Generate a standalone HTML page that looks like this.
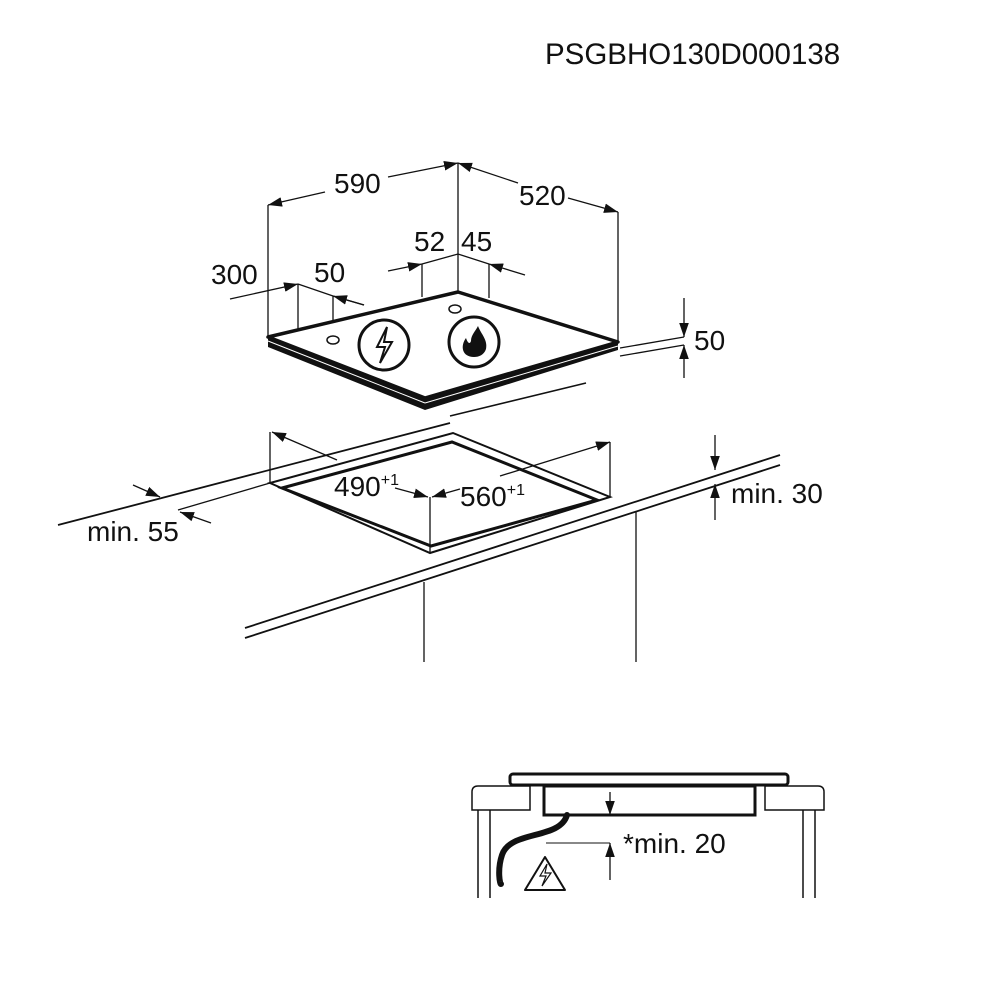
<!DOCTYPE html>
<html><head><style>body{margin:0;background:#fff}svg{display:block}text{font-family:"Liberation Sans",Arial,sans-serif;fill:#111}</style></head>
<body>
<svg width="1000" height="1000" viewBox="0 0 1000 1000">
<defs><marker id="a" viewBox="0 0 10 10" refX="10" refY="5" markerWidth="14" markerHeight="12" orient="auto-start-reverse" markerUnits="userSpaceOnUse" preserveAspectRatio="none"><path d="M0,1 L10,5 L0,9z" fill="#111"/></marker></defs>
<text x="545" y="64" font-size="29.5">PSGBHO130D000138</text>
<g stroke="#111" fill="none" stroke-width="1.3">
<line x1="458" y1="163" x2="458" y2="292"/>
<line x1="268" y1="205" x2="268" y2="337"/>
<line x1="618" y1="212" x2="618" y2="342"/>
<line x1="325" y1="192" x2="268" y2="205" marker-end="url(#a)"/>
<line x1="388" y1="177" x2="458" y2="163" marker-end="url(#a)"/>
<line x1="518" y1="183" x2="458" y2="163" marker-end="url(#a)"/>
<line x1="568" y1="198" x2="618" y2="212" marker-end="url(#a)"/>
<line x1="422" y1="264" x2="422" y2="297"/>
<line x1="489" y1="264" x2="489" y2="298"/>
<polyline points="422,264 458,254 489,264"/>
<line x1="388" y1="271" x2="422" y2="264" marker-end="url(#a)"/>
<line x1="525" y1="275" x2="489" y2="264" marker-end="url(#a)"/>
<line x1="298" y1="284" x2="298" y2="330"/>
<line x1="333" y1="296" x2="333" y2="340"/>
<polyline points="298,284 333,296 364,305"/>
<line x1="230" y1="299" x2="298" y2="284" marker-end="url(#a)"/>
<line x1="364" y1="305" x2="333" y2="296" marker-end="url(#a)"/>
<line x1="620" y1="348" x2="684" y2="337"/>
<line x1="620" y1="356" x2="684" y2="345"/>
<line x1="684" y1="298" x2="684" y2="337" marker-end="url(#a)"/>
<line x1="684" y1="378" x2="684" y2="345" marker-end="url(#a)"/>
<line x1="450" y1="416" x2="586" y2="383" stroke-width="1.6"/>
</g>
<polygon points="268,337 458,292 618,342 425,398" fill="#fff" stroke="#111" stroke-width="3.5" stroke-linejoin="round"/>
<polygon points="268,337 425,398 618,342 618,350 425,410 268,347" fill="#111"/>
<line x1="268" y1="341" x2="425" y2="403" stroke="#fff" stroke-width="1"/>
<line x1="425" y1="403" x2="618" y2="346" stroke="#fff" stroke-width="1"/>
<ellipse cx="333" cy="340" rx="6" ry="4" fill="none" stroke="#111" stroke-width="1.5"/>
<ellipse cx="455" cy="309" rx="6" ry="4" fill="none" stroke="#111" stroke-width="1.5"/>
<circle cx="384" cy="345" r="25" fill="#fff" stroke="#111" stroke-width="3"/>
<path d="M387,327 L377,347 L385,347 L380,363 L392,342 L384,342 Z" fill="#fff" stroke="#111" stroke-width="2"/>
<circle cx="474" cy="342" r="25" fill="#fff" stroke="#111" stroke-width="3"/>
<path d="M474,357 C462,357 460,346 466,338 C468,344 470,344 471,341 C471,335 475,332 478,326 C481,334 488,340 486,349 C484,355 479,357 474,357Z" fill="#111"/>
<g stroke="#111" fill="none" stroke-width="1.3">
<line x1="58" y1="525" x2="450" y2="423" stroke-width="1.8"/>
<line x1="245" y1="628" x2="780" y2="455" stroke-width="1.8"/>
<line x1="245" y1="638" x2="780" y2="465" stroke-width="1.8"/>
<line x1="424" y1="582" x2="424" y2="662"/>
<line x1="636" y1="512" x2="636" y2="662"/>
<line x1="270" y1="483" x2="178" y2="510"/>
<line x1="133" y1="485" x2="160" y2="497" marker-end="url(#a)"/>
<line x1="211" y1="523" x2="180" y2="512" marker-end="url(#a)"/>
<line x1="270" y1="432" x2="270" y2="483"/>
<line x1="610" y1="442" x2="610" y2="497"/>
<line x1="337" y1="460" x2="272" y2="432" marker-end="url(#a)"/>
<line x1="500" y1="476" x2="610" y2="442" marker-end="url(#a)"/>
<line x1="430" y1="497" x2="430" y2="553"/>
<line x1="395" y1="488" x2="428" y2="497" marker-end="url(#a)"/>
<line x1="460" y1="489" x2="432" y2="497" marker-end="url(#a)"/>
<line x1="715" y1="435" x2="715" y2="470" marker-end="url(#a)"/>
<line x1="715" y1="520" x2="715" y2="484" marker-end="url(#a)"/>
</g>
<polygon points="270,483 453,433 610,497 430,553" fill="none" stroke="#111" stroke-width="2"/>
<polygon points="282,488 452,442 597,500 431,546" fill="none" stroke="#111" stroke-width="3"/>
<g stroke="#111" fill="none">
<rect x="510" y="774" width="278" height="11" rx="3" stroke-width="3"/>
<path d="M530,786 H478 Q472,786 472,792 V810 H530 Z M765,786 H818 Q824,786 824,792 V810 H765 Z" stroke-width="1.5"/>
<path d="M478,810 V898 M490,810 V898 M803,810 V898 M815,810 V898" stroke-width="1.5"/>
<rect x="544" y="786" width="211" height="29" stroke-width="3"/>
<path d="M567,815 C560,840 510,830 502,855 C497,870 500,885 501,884" stroke-width="6" stroke-linecap="round"/>
<polygon points="545,857 525,890 565,890" stroke-width="2" stroke-linejoin="round"/>
<path d="M547,864 L540,876 L546,876 L542,886 L551,873 L545,873Z" stroke-width="1.2"/>
<line x1="546" y1="843" x2="610" y2="843" stroke-width="1"/>
<line x1="610" y1="792" x2="610" y2="815" marker-end="url(#a)" stroke-width="1.3"/>
<line x1="610" y1="880" x2="610" y2="843" marker-end="url(#a)" stroke-width="1.3"/>
</g>
<g font-size="28">
<text x="334" y="193">590</text>
<text x="519" y="205">520</text>
<text x="414" y="251">52</text>
<text x="461" y="251">45</text>
<text x="211" y="284">300</text>
<text x="314" y="282">50</text>
<text x="694" y="350">50</text>
<text x="334" y="496">490<tspan font-size="16" dy="-11">+1</tspan></text>
<text x="460" y="506">560<tspan font-size="16" dy="-11">+1</tspan></text>
<text x="731" y="503">min. 30</text>
<text x="87" y="541">min. 55</text>
<text x="623" y="853">*min. 20</text>
</g>
</svg>
</body></html>
